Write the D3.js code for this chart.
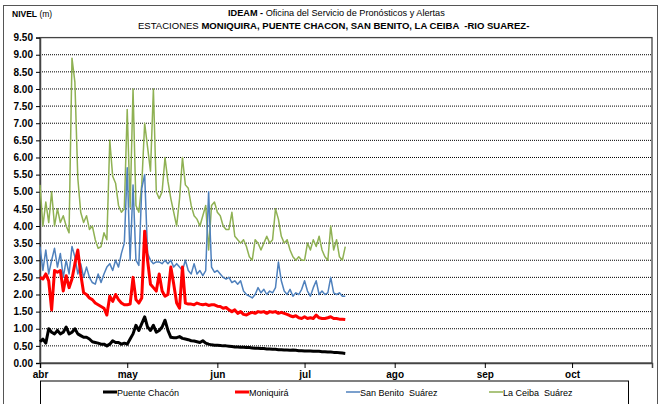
<!DOCTYPE html>
<html><head><meta charset="utf-8">
<script src="https://cdn.jsdelivr.net/npm/d3@7/dist/d3.min.js"></script>
<style>
body{margin:0;background:#fff;}
svg{display:block;font-family:"Liberation Sans",Arial,sans-serif;}
</style></head><body>
<svg id="c" width="661" height="404"></svg>
<script>
const startDate = new Date(2011, 3, 1);
const endDate = new Date(2011, 9, 28, 12);
const monthLabels = ["abr","may","jun","jul","ago","sep","oct"];
const yTicks = d3.range(0, 9.51, 0.5);
const seriesNames = ["Puente Chacón","Moniquirá","San Benito  Suárez","La Ceiba  Suárez"];
const seriesColors = ["#000000","#ff0000","#4f81bd","#8fb153"];

const puenteChacon = [0.62,0.7,0.58,1.0,0.9,0.85,0.95,0.85,0.9,1.05,0.85,0.9,1.0,0.85,0.8,0.75,0.75,0.7,0.62,0.6,
0.58,0.55,0.55,0.5,0.55,0.65,0.6,0.6,0.55,0.58,0.55,0.7,0.85,1.1,0.95,1.15,1.35,1.05,0.95,1.1,
0.9,0.95,1.05,1.25,0.95,0.75,0.74,0.74,0.77,0.72,0.7,0.68,0.65,0.64,0.62,0.6,0.65,0.58,0.55,0.53,
0.52,0.52,0.51,0.5,0.5,0.49,0.48,0.47,0.47,0.46,0.46,0.45,0.45,0.44,0.43,0.43,0.42,0.42,0.41,0.41,
0.4,0.4,0.39,0.39,0.38,0.38,0.37,0.38,0.37,0.36,0.36,0.35,0.35,0.35,0.34,0.34,0.34,0.33,0.33,0.32,
0.32,0.31,0.31,0.3,0.29,0.28];
const moniquira = [2.5,2.45,2.6,2.4,1.55,2.7,2.65,2.7,2.1,2.55,2.2,2.45,2.9,3.3,2.6,2.05,2.0,1.9,1.85,1.75,
1.7,1.65,1.6,1.4,1.95,1.8,2.0,1.85,1.75,1.7,1.7,1.72,2.5,1.85,1.75,1.9,3.85,3.0,2.3,2.2,
2.1,2.6,2.1,1.95,2.0,2.8,2.3,1.75,1.6,2.8,1.75,1.72,1.72,1.7,1.75,1.72,1.7,1.72,1.68,1.7,
1.7,1.66,1.65,1.6,1.62,1.55,1.5,1.55,1.45,1.5,1.42,1.4,1.45,1.48,1.45,1.5,1.48,1.5,1.45,1.5,
1.48,1.5,1.45,1.48,1.45,1.42,1.38,1.35,1.38,1.32,1.3,1.35,1.3,1.32,1.3,1.4,1.32,1.3,1.3,1.32,
1.35,1.3,1.3,1.28,1.28,1.27];
const sanBenito = [3.4,2.7,3.3,2.6,3.0,3.35,2.8,3.2,2.5,3.0,2.6,3.4,3.1,2.6,2.9,2.5,2.8,2.5,2.35,2.3,
2.6,2.35,2.6,2.8,2.9,2.7,3.0,2.8,3.2,3.5,5.7,3.0,5.2,3.0,2.85,5.1,5.5,3.2,3.0,2.9,
2.95,2.95,2.9,3.0,2.9,3.0,2.8,2.9,2.8,2.7,3.0,2.7,2.6,2.9,2.6,2.7,2.55,2.7,5.0,2.8,
2.65,2.7,2.6,2.5,2.45,2.5,2.35,2.4,2.3,2.4,2.1,2.0,1.95,1.9,2.0,2.2,2.05,2.15,2.0,2.1,
2.05,2.2,2.95,2.4,2.1,2.0,2.15,1.95,2.05,2.0,2.15,2.4,2.1,1.95,2.2,2.4,2.0,2.1,2.0,2.05,
2.5,2.05,2.0,2.05,1.95,1.95];
const laCeiba = [5.2,4.0,4.7,4.1,5.0,4.0,4.5,4.1,4.3,4.0,3.8,8.9,8.2,5.4,4.4,4.1,4.3,3.9,4.0,3.6,
3.35,3.4,3.8,3.6,6.5,5.45,5.25,4.6,4.4,4.5,7.4,4.55,8.0,4.6,4.4,5.2,7.0,6.3,5.6,8.0,
5.0,4.8,5.0,6.0,5.3,4.8,4.4,4.0,4.8,6.0,5.2,5.1,4.6,4.3,4.2,4.0,4.3,4.6,3.3,4.6,
4.7,4.4,4.3,4.0,3.9,3.9,4.4,3.7,3.6,3.5,3.6,3.4,3.1,3.0,3.6,3.5,3.3,3.5,3.7,3.5,
3.6,4.5,4.2,3.7,3.5,3.6,3.3,3.1,3.0,3.1,3.0,3.0,3.5,3.3,3.6,3.4,3.7,3.3,3.1,3.0,
4.0,3.3,3.6,3.1,3.0,3.4];
const seriesValues = [puenteChacon, moniquira, sanBenito, laCeiba];

const svg = d3.select("#c");
const L = 40, R = 652, T = 37.6, B = 363;
const x = d3.scaleTime().domain([startDate, endDate]).range([L, R]);
const y = d3.scaleLinear().domain([0, 9.5]).range([B, T]);

svg.append("rect").attr("x",3.5).attr("y",5.5).attr("width",654).attr("height",420)
  .attr("fill","none").attr("stroke","#555").attr("stroke-width",1);

svg.append("g").selectAll("line").data(yTicks.filter(v=>v>0 && v<9.5)).join("line")
  .attr("x1",L).attr("x2",R).attr("y1",d=>y(d)).attr("y2",d=>y(d))
  .attr("stroke","#000").attr("stroke-width",1).attr("stroke-dasharray","1,1");

svg.append("rect").attr("x",L).attr("y",T).attr("width",R-L).attr("height",B-T)
  .attr("fill","none").attr("stroke","#444").attr("stroke-width",1.3);

const yAxis = d3.axisLeft(y).tickValues(yTicks).tickFormat(d3.format(".2f")).tickSize(4).tickPadding(3);
const gy = svg.append("g").attr("transform",`translate(${L},0)`).call(yAxis);
gy.select(".domain").attr("stroke","#444").attr("stroke-width",1.5);
gy.selectAll("text").attr("font-size",10).attr("font-weight","bold").attr("fill","#000")
  .attr("font-family","'Liberation Sans',Arial,sans-serif");

const monthDates = monthLabels.map((m,i)=>new Date(2011, 3+i, 1));
const xAxis = d3.axisBottom(x).tickValues(monthDates).tickFormat((d,i)=>monthLabels[i]).tickSize(5).tickPadding(3);
const gx = svg.append("g").attr("transform",`translate(0,${B})`).call(xAxis);
gx.select(".domain").attr("stroke","#444").attr("stroke-width",1.5);
gx.selectAll("text").attr("font-size",10).attr("font-weight","bold").attr("fill","#000")
  .attr("font-family","'Liberation Sans',Arial,sans-serif");

const widths = [3,3,1.5,1.5];
[3,2,1,0].forEach(si=>{
  const line = d3.line().x((d,i)=>x(d3.timeDay.offset(startDate,i))).y(d=>y(d));
  svg.append("path").datum(seriesValues[si]).attr("d",line).attr("fill","none")
    .attr("stroke",seriesColors[si]).attr("stroke-width",widths[si]).attr("stroke-linejoin","round");
});

svg.append("text").attr("x",12).attr("y",17).attr("font-size",8.5).attr("fill","#000")
  .call(t=>{t.append("tspan").attr("font-weight","bold").text("NIVEL");t.append("tspan").text(" (m)");});

// title lines: fit natural text into the reference span by font size
function titleLine(parts, x0, x1, yy){
  const g = svg.append("text").attr("x",x0).attr("y",yy).attr("font-size",10.5).attr("fill","#000")
    .style("white-space","pre");
  parts.forEach(p=>g.append("tspan").attr("font-weight",p.bold?"bold":"normal").text(p.t));
  const w = g.node().getComputedTextLength();
  g.attr("font-size", 10.5*(x1-x0)/w);
}
titleLine([{t:"IDEAM - ",bold:true},{t:"Oficina del Servicio de Pronósticos y Alertas",bold:false}],228,445,16);
titleLine([{t:"ESTACIONES ",bold:false},{t:"MONIQUIRA, PUENTE CHACON, SAN BENITO, LA CEIBA  -RIO SUAREZ-",bold:true}],138,530,28.5);

svg.append("rect").attr("x",40.5).attr("y",381).attr("width",588).attr("height",40)
  .attr("fill","#fff").attr("stroke","#000").attr("stroke-width",1);
const legX = [103,235,346,489];
seriesNames.forEach((n,i)=>{
  svg.append("line").attr("x1",legX[i]).attr("x2",legX[i]+14).attr("y1",392).attr("y2",392)
    .attr("stroke",seriesColors[i]).attr("stroke-width",widths[i]);
  svg.append("text").attr("x",legX[i]+14).attr("y",395.5).attr("font-size",9).attr("fill","#000")
    .style("white-space","pre").text(n);
});
</script></body></html>
